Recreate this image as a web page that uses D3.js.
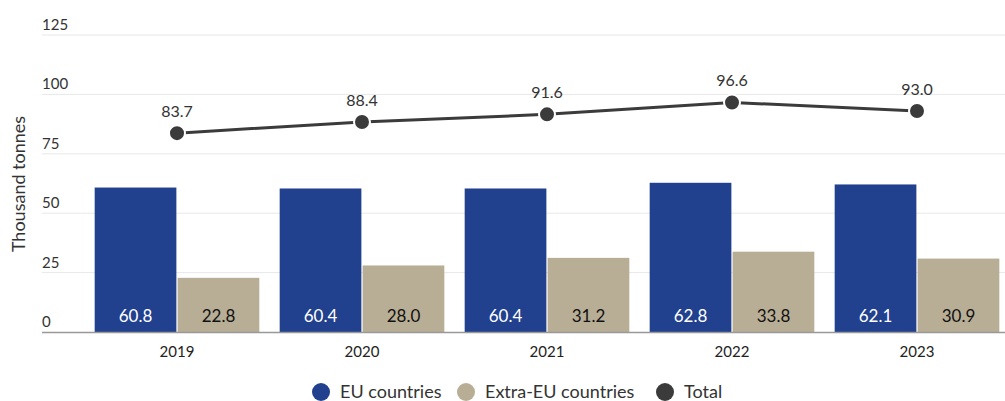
<!DOCTYPE html>
<html>
<head>
<meta charset="utf-8">
<script src="https://cdn.jsdelivr.net/npm/d3@7"></script>
<style>
  body { margin: 0; background: #fff; }
  text { font-family: Lato, "Noto Sans", sans-serif; }
</style>
</head>
<body>
<div id="chart"></div>
<script>
var years = ["2019", "2020", "2021", "2022", "2023"];
var euValues = [60.8, 60.4, 60.4, 62.8, 62.1];
var extraValues = [22.8, 28.0, 31.2, 33.8, 30.9];
var totalValues = [83.7, 88.4, 91.6, 96.6, 93.0];
var yTicks = [0, 25, 50, 75, 100, 125];
var seriesNames = ["EU countries", "Extra-EU countries", "Total"];
var colors = ["#21408e", "#b8ad95", "#3b3b3b"];

var width = 1005, height = 401;
var svg = d3.select("#chart").append("svg")
    .attr("width", width)
    .attr("height", height);

var y = d3.scaleLinear().domain([0, 125]).range([332, 35]);
var x0 = d3.scaleBand().domain(years).range([84.5, 1009.5])
    .paddingInner(0.11).paddingOuter(0.055);
var x1 = d3.scaleBand().domain(["eu", "extra"]).range([0, x0.bandwidth()])
    .paddingInner(0.015);

// gridlines + tick labels
var grid = svg.append("g");
grid.selectAll("line").data(yTicks.filter(function(d) { return d > 0; }))
  .enter().append("line")
    .attr("x1", 42).attr("x2", width)
    .attr("y1", function(d) { return y(d); })
    .attr("y2", function(d) { return y(d); })
    .attr("stroke", "#e8e8e8").attr("stroke-width", 1);
grid.selectAll("text").data(yTicks)
  .enter().append("text")
    .attr("x", 42)
    .attr("y", function(d) { return y(d) - 5; })
    .attr("font-size", 15).attr("fill", "#333")
    .text(function(d) { return d; });

svg.append("text")
    .attr("transform", "translate(25,184) rotate(-90)")
    .attr("text-anchor", "middle")
    .attr("font-size", 18).attr("fill", "#333")
    .text("Thousand tonnes");

// bars
var groups = svg.append("g").selectAll("g").data(years)
  .enter().append("g")
    .attr("transform", function(d) { return "translate(" + x0(d) + ",0)"; });

groups.append("rect")
    .attr("x", x1("eu")).attr("width", x1.bandwidth())
    .attr("y", function(d, i) { return y(euValues[i]); })
    .attr("height", function(d, i) { return y(0) - y(euValues[i]); })
    .attr("fill", colors[0]);
groups.append("rect")
    .attr("x", x1("extra")).attr("width", x1.bandwidth())
    .attr("y", function(d, i) { return y(extraValues[i]); })
    .attr("height", function(d, i) { return y(0) - y(extraValues[i]); })
    .attr("fill", colors[1]);

groups.append("text")
    .attr("x", x1("eu") + x1.bandwidth() / 2).attr("y", 322)
    .attr("text-anchor", "middle").attr("font-size", 17).attr("fill", "#fff")
    .text(function(d, i) { return euValues[i].toFixed(1); });
groups.append("text")
    .attr("x", x1("extra") + x1.bandwidth() / 2).attr("y", 322)
    .attr("text-anchor", "middle").attr("font-size", 17).attr("fill", "#111")
    .text(function(d, i) { return extraValues[i].toFixed(1); });

// x axis
svg.append("line")
    .attr("x1", 42).attr("x2", width)
    .attr("y1", y(0) + 0.5).attr("y2", y(0) + 0.5)
    .attr("stroke", "#999").attr("stroke-width", 1.5);
svg.append("g").selectAll("text").data(years)
  .enter().append("text")
    .attr("x", function(d) { return x0(d) + x0.bandwidth() / 2; })
    .attr("y", 357)
    .attr("text-anchor", "middle").attr("font-size", 15).attr("fill", "#222")
    .text(function(d) { return d; });

// total line
var cx = function(d, i) { return x0(years[i]) + x0.bandwidth() / 2; };
var line = d3.line().x(cx).y(function(d) { return y(d); });
svg.append("path").datum(totalValues)
    .attr("d", line)
    .attr("fill", "none").attr("stroke", colors[2]).attr("stroke-width", 3);
svg.append("g").selectAll("circle").data(totalValues)
  .enter().append("circle")
    .attr("cx", cx).attr("cy", function(d) { return y(d); })
    .attr("r", 8)
    .attr("fill", colors[2]).attr("stroke", "#fff").attr("stroke-width", 2);
svg.append("g").selectAll("text").data(totalValues)
  .enter().append("text")
    .attr("x", cx).attr("y", function(d) { return y(d) - 16; })
    .attr("text-anchor", "middle").attr("font-size", 16).attr("fill", "#333")
    .text(function(d) { return d.toFixed(1); });

// legend
var legendX = [321, 466, 665];
var legend = svg.append("g").selectAll("g").data(seriesNames)
  .enter().append("g")
    .attr("transform", function(d, i) { return "translate(" + legendX[i] + ",392)"; });
legend.append("circle").attr("r", 9)
    .attr("fill", function(d, i) { return colors[i]; });
legend.append("text").attr("x", 19).attr("y", 6)
    .attr("font-size", 18).attr("fill", "#333")
    .text(function(d) { return d; });
</script>
</body>
</html>
